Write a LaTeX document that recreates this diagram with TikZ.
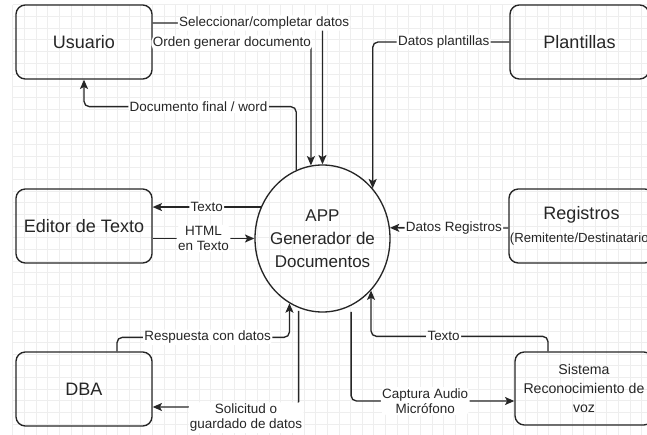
\documentclass[tikz,border=0pt]{standalone}
\usepackage{fontspec}
\setmainfont{Liberation Sans}
\usetikzlibrary{arrows.meta,calc,shapes.geometric}
\tikzset{
  entity/.style={draw=black!85, line width=1pt, rounded corners=7pt,
    minimum width=102pt, minimum height=55.5pt, inner sep=0pt, align=center,
    text=black!85, font=\fontsize{13.5}{16}\selectfont},
  flow/.style={draw=black!85, line width=1pt, rounded corners=4pt,
    -{Stealth[length=7pt,width=6pt,inset=1.6pt]}},
  lbl/.style={fill=white, inner sep=1pt, text=black!85,
    font=\fontsize{10.1}{11.5}\selectfont, align=center},
  gridline/.style={draw=gray!13, line width=0.6pt}
}
\begin{document}
\begin{tikzpicture}[x=0.75pt,y=-0.75pt]
\useasboundingbox (0,0) rectangle (647,435);
\clip (0,0) rectangle (647,435);
\fill[white] (0,0) rectangle (647,435);
% background grid
\foreach \i in {0,...,55} \draw[gridline] ({12.7+\i*11.65},4.7) -- ({12.7+\i*11.65},435);
\foreach \j in {0,...,37} \draw[gridline] (12.7,{4.7+\j*11.65}) -- (647,{4.7+\j*11.65});

% external entities
\node[entity] (usr) at (84,42) {Usuario};
\node[entity, minimum width=104.25pt] (pl) at (579.5,42) {Plantillas};
\node[entity] (ed) at (84,226) {Editor de Texto};
\node[entity, minimum width=108.75pt] (reg) at (581.5,226)
  {Registros\\[1pt]{\fontsize{9.9}{11}\selectfont(Remitente/Destinatario)}};
\node[entity] (dba) at (84,389) {DBA};
\node[entity, minimum width=103.5pt, minimum height=54.75pt, font=\fontsize{10.6}{14}\selectfont]
  (sis) at (584,388.5) {Sistema\\Reconocimiento de\\voz};

% central process
\node[draw=black!85, line width=1pt, ellipse, minimum width=101.25pt,
  minimum height=110.25pt, inner sep=0pt] (app) at (322.5,238.5) {};
\node[align=center, font=\fontsize{12.75}{17.25}\selectfont, text=black!85] (apptxt)
  at (app.center) {APP\\Generador de\\Documentos};

% data flows
\draw[flow] ($(usr.east)+(0,-19)$) -| node[lbl,pos=0.328]{Seleccionar/completar datos} (app.north);
\draw[flow] ($(usr.east)+(0,1)$) -| node[lbl,pos=0.25]{Orden generar documento} (app.99);
\draw[flow] (app.111) |- node[lbl,pos=0.73]{Documento final / word} ($(usr.south)+(0,27)$) -- (usr.south);
\draw[flow] (pl.west) -| node[lbl,pos=0.24]{Datos plantillas} (app.45);
\draw[flow] (app.153.6) -- node[lbl]{Texto} (app.153.6 -| ed.east);
\draw[flow] ($(ed.east)+(0,12.5)$) -- node[lbl]{HTML\\en Texto} (app.west);
\draw[flow] ($(reg.west)+(0,2)$) -- node[lbl,pos=0.46]{Datos Registros} (app.9);
\draw[flow] ($(dba.north)+(33,0)$) -- ++(0,-14) -| node[lbl,pos=0.263]{Respuesta con datos} (app.243);
\draw[flow, shorten <=2.25pt] (app.251) |- node[lbl,pos=0.68,yshift=-8pt]{Solicitud o\\guardado de datos} ($(dba.east)+(0,18)$);
\draw[flow] ($(sis.north)+(-36,0)$) -- ++(0,-15) -| node[lbl,pos=0.295]{Texto} (app.-47.7);
\draw[flow, shorten <=4.5pt] (app.-67.7) |- node[lbl,pos=0.727]{Captura Audio\\Micrófono} ($(sis.west)+(0,12.5)$);
\end{tikzpicture}
\end{document}
